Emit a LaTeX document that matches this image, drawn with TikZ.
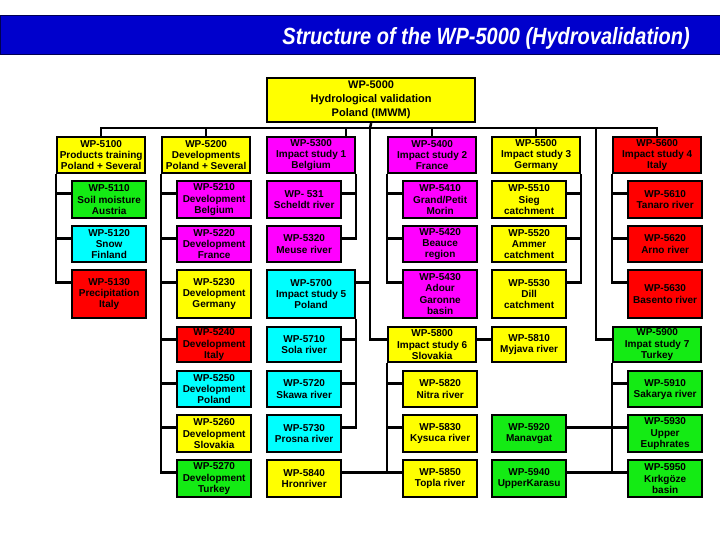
\documentclass[tikz,border=0pt]{standalone}
\usepackage{fontspec}
\setmainfont{Liberation Sans}
\newfontfamily\narrowfont[FakeStretch=0.85]{Liberation Sans}
\usetikzlibrary{positioning}

\definecolor{wpyellow}{RGB}{255,255,0}
\definecolor{wpmagenta}{RGB}{255,0,255}
\definecolor{wpred}{RGB}{255,0,0}
\definecolor{wpgreen}{RGB}{20,235,20}
\definecolor{wpcyan}{RGB}{0,255,255}
\definecolor{barblue}{RGB}{0,0,204}

\begin{document}
\begin{tikzpicture}[x=1pt,y=-1pt,
  wp box/.style={draw,line width=2.3pt,align=center,inner sep=0pt,
    anchor=north west,xshift=1.15pt,yshift=-1.15pt,
    font=\bfseries\fontsize{10}{11.2}\selectfont},
  head box/.style={wp box,minimum width=87.7pt},
  sub box/.style={wp box,minimum width=73.7pt},
  yellow wp/.style={fill=wpyellow},
  magenta wp/.style={fill=wpmagenta,text=black},
  red wp/.style={fill=wpred,text=black},
  green wp/.style={fill=wpgreen},
  cyan wp/.style={fill=wpcyan},
  r0/.style={minimum height=35.7pt},
  r1/.style={minimum height=36.7pt},
  r2/.style={minimum height=35.7pt},
  r3/.style={minimum height=47.7pt},
  r4/.style={minimum height=34.7pt},
  r5/.style={minimum height=35.7pt},
  r6/.style={minimum height=36.7pt},
  r7/.style={minimum height=36.7pt},
  link/.style={line width=2.5pt},
  tap/.style={yshift=-13.5pt}]

  \useasboundingbox (0,0) rectangle (720,540);

  % title bar
  \draw[fill=barblue,draw=black!60!barblue,line width=1pt] (0,16) rectangle (720,55);
  \node[anchor=base east,inner sep=0pt,text=white,
    font=\narrowfont\bfseries\itshape\fontsize{23.5}{26}\selectfont] (title) at (690,45)
    {Structure of the WP-5000 (Hydrovalidation)};

  \node[wp box,yellow wp,minimum width=207.7pt,minimum height=43.7pt,
    font=\bfseries\fontsize{11}{14}\selectfont] (wp5000) at (265,76)
    {WP-5000\\Hydrological validation\\Poland (IMWM)};

  % top level
  \node[head box,yellow wp,r0] (wp5100) at (55,135) {WP-5100\\Products training\\Poland + Several};
  \node[head box,yellow wp,r0] (wp5200) at (160,135) {WP-5200\\Developments\\Poland + Several};
  \node[head box,magenta wp,r0] (wp5300) at (265,135) {WP-5300\\Impact study 1\\Belgium};
  \node[head box,magenta wp,r0] (wp5400) at (386,135) {WP-5400\\Impact study 2\\France};
  \node[head box,yellow wp,r0] (wp5500) at (490,135) {WP-5500\\Impact study 3\\Germany};
  \node[head box,red wp,r0] (wp5600) at (611,135) {WP-5600\\Impact study 4\\Italy};
  \node[head box,cyan wp,r3] (wp5700) at (265,268) {WP-5700\\Impact study 5\\Poland};
  \node[head box,yellow wp,r4] (wp5800) at (386,325) {WP-5800\\Impact study 6\\Slovakia};
  \node[head box,green wp,r4] (wp5900) at (611,325) {WP-5900\\Impat study 7\\Turkey};

  % column 5100
  \node[sub box,green wp,r1] (wp5110) at (70,179) {WP-5110\\Soil moisture\\Austria};
  \node[sub box,cyan wp,r2] (wp5120) at (70,224) {WP-5120\\Snow\\Finland};
  \node[sub box,red wp,r3] (wp5130) at (70,268) {WP-5130\\Precipitation\\Italy};

  % column 5200
  \node[sub box,magenta wp,r1] (wp5210) at (175,179) {WP-5210\\Development\\Belgium};
  \node[sub box,magenta wp,r2] (wp5220) at (175,224) {WP-5220\\Development\\France};
  \node[sub box,yellow wp,r3] (wp5230) at (175,268) {WP-5230\\Development\\Germany};
  \node[sub box,red wp,r4] (wp5240) at (175,325) {WP-5240\\Development\\Italy};
  \node[sub box,cyan wp,r5] (wp5250) at (175,369) {WP-5250\\Development\\Poland};
  \node[sub box,yellow wp,r6] (wp5260) at (175,413) {WP-5260\\Development\\Slovakia};
  \node[sub box,green wp,r7] (wp5270) at (175,458) {WP-5270\\Development\\Turkey};

  % column 5300 / 5700
  \node[sub box,magenta wp,r1] (wp5310) at (265,179) {WP- 531\\Scheldt river};
  \node[sub box,magenta wp,r2] (wp5320) at (265,224) {WP-5320\\Meuse river};
  \node[sub box,cyan wp,r4] (wp5710) at (265,325) {WP-5710\\Sola river};
  \node[sub box,cyan wp,r5] (wp5720) at (265,369) {WP-5720\\Skawa river};
  \node[sub box,cyan wp,r6] (wp5730) at (265,413) {WP-5730\\Prosna river};
  \node[sub box,yellow wp,r7] (wp5840) at (265,458) {WP-5840\\Hronriver};

  % column 5400 / 5800
  \node[sub box,magenta wp,r1] (wp5410) at (401,179) {WP-5410\\Grand/Petit\\Morin};
  \node[sub box,magenta wp,r2] (wp5420) at (401,224) {WP-5420\\Beauce\\region};
  \node[sub box,magenta wp,r3] (wp5430) at (401,268) {WP-5430\\Adour\\Garonne\\basin};
  \node[sub box,yellow wp,r5] (wp5820) at (401,369) {WP-5820\\Nitra river};
  \node[sub box,yellow wp,r6] (wp5830) at (401,413) {WP-5830\\Kysuca river};
  \node[sub box,yellow wp,r7] (wp5850) at (401,458) {WP-5850\\Topla river};

  % column 5500
  \node[sub box,yellow wp,r1] (wp5510) at (490,179) {WP-5510\\Sieg\\catchment};
  \node[sub box,yellow wp,r2] (wp5520) at (490,224) {WP-5520\\Ammer\\catchment};
  \node[sub box,yellow wp,r3] (wp5530) at (490,268) {WP-5530\\Dill\\catchment};
  \node[sub box,yellow wp,r4] (wp5810) at (490,325) {WP-5810\\Myjava river};
  \node[sub box,green wp,r6] (wp5920) at (490,413) {WP-5920\\Manavgat};
  \node[sub box,green wp,r7] (wp5940) at (490,458) {WP-5940\\UpperKarasu};

  % column 5600 / 5900
  \node[sub box,red wp,r1] (wp5610) at (626,179) {WP-5610\\Tanaro river};
  \node[sub box,red wp,r2] (wp5620) at (626,224) {WP-5620\\Arno river};
  \node[sub box,red wp,r3] (wp5630) at (626,268) {WP-5630\\Basento river};
  \node[sub box,green wp,r5] (wp5910) at (626,369) {WP-5910\\Sakarya river};
  \node[sub box,green wp,r6] (wp5930) at (626,413) {WP-5930\\Upper\\Euphrates};
  \node[sub box,green wp,r7] (wp5950) at (626,458) {WP-5950\\Kırkgöze\\basin};

  % connectors
  \coordinate (hub) at (370,128);
  \coordinate (hubF) at (596,128);
  \draw[link] (wp5000.south) -- (hub);
  \draw[link] (wp5100.north) |- (hub);
  \draw[link] (wp5200.north) |- (hub);
  \draw[link] ([xshift=35pt]wp5300.north) |- (hub);
  \draw[link] (wp5400.north) |- (hub);
  \draw[link] (wp5500.north) |- (hub);
  \draw[link] (wp5600.north) |- (hub);
  \draw[link] ([tap]wp5700.north east) -| (hub);
  \draw[link] (hub) |- ([tap]wp5800.north west);
  \draw[link] (hubF) |- ([tap]wp5900.north west);

  \draw[link] (wp5100.south west) |- ([tap]wp5110.north west);
  \draw[link] (wp5100.south west) |- ([tap]wp5120.north west);
  \draw[link] (wp5100.south west) |- ([tap]wp5130.north west);

  \draw[link] (wp5200.south west) |- ([tap]wp5210.north west);
  \draw[link] (wp5200.south west) |- ([tap]wp5220.north west);
  \draw[link] (wp5200.south west) |- ([tap]wp5230.north west);
  \draw[link] (wp5200.south west) |- ([tap]wp5240.north west);
  \draw[link] (wp5200.south west) |- ([tap]wp5250.north west);
  \draw[link] (wp5200.south west) |- ([tap]wp5260.north west);
  \draw[link] (wp5200.south west) |- ([tap]wp5270.north west);

  \draw[link] (wp5300.south east) |- ([tap]wp5310.north east);
  \draw[link] (wp5300.south east) |- ([tap]wp5320.north east);
  \draw[link] (wp5700.south east) |- ([tap]wp5710.north east);
  \draw[link] (wp5700.south east) |- ([tap]wp5720.north east);
  \draw[link] (wp5700.south east) |- ([tap]wp5730.north east);

  \draw[link] (wp5400.south west) |- ([tap]wp5410.north west);
  \draw[link] (wp5400.south west) |- ([tap]wp5420.north west);
  \draw[link] (wp5400.south west) |- ([tap]wp5430.north west);
  \draw[link] ([tap]wp5800.north east) -- ([tap]wp5810.north west);
  \draw[link] (wp5800.south west) |- ([tap]wp5820.north west);
  \draw[link] (wp5800.south west) |- ([tap]wp5830.north west);
  \draw[link] (wp5800.south west) |- ([tap]wp5850.north west);
  \draw[link] (wp5800.south west) |- ([tap]wp5840.north east);

  \draw[link] (wp5500.south east) |- ([tap]wp5510.north east);
  \draw[link] (wp5500.south east) |- ([tap]wp5520.north east);
  \draw[link] (wp5500.south east) |- ([tap]wp5530.north east);

  \draw[link] (wp5600.south west) |- ([tap]wp5610.north west);
  \draw[link] (wp5600.south west) |- ([tap]wp5620.north west);
  \draw[link] (wp5600.south west) |- ([tap]wp5630.north west);
  \draw[link] (wp5900.south west) |- ([tap]wp5910.north west);
  \draw[link] (wp5900.south west) |- ([tap]wp5930.north west);
  \draw[link] (wp5900.south west) |- ([tap]wp5950.north west);
  \draw[link] (wp5900.south west) |- ([tap]wp5920.north east);
  \draw[link] (wp5900.south west) |- ([tap]wp5940.north east);
\end{tikzpicture}
\end{document}
